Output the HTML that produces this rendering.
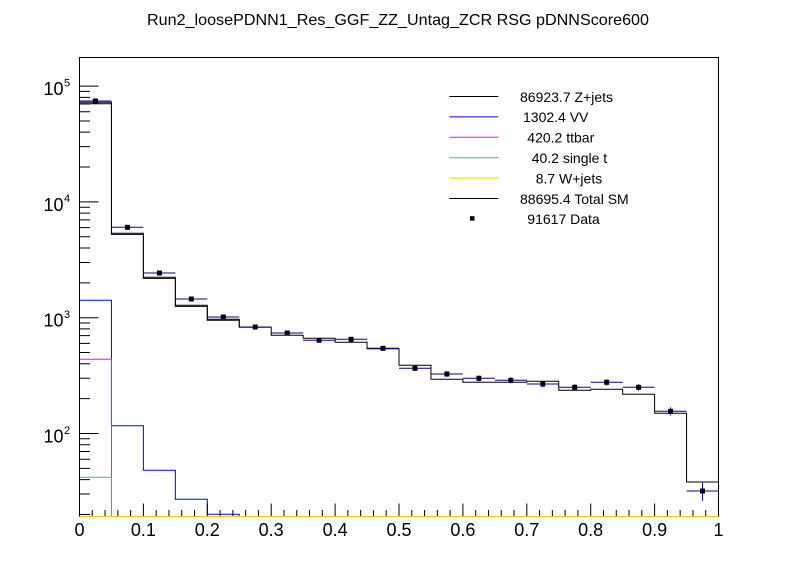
<!DOCTYPE html>
<html>
<head>
<meta charset="utf-8">
<style>
  html, body { margin: 0; padding: 0; background: #ffffff; }
  svg { display: block; }
  text { font-family: "Liberation Sans", Arial, sans-serif; fill: #000; }
</style>
</head>
<body>
<svg width="798" height="575" viewBox="0 0 798 575" xmlns="http://www.w3.org/2000/svg">
  <rect x="0" y="0" width="798" height="575" fill="#ffffff"/>

  <!-- Title -->
  <text x="147" y="25" font-size="16" textLength="502" lengthAdjust="spacingAndGlyphs">Run2_loosePDNN1_Res_GGF_ZZ_Untag_ZCR RSG  pDNNScore600</text>

  <defs>
    <clipPath id="frame">
      <rect x="79.5" y="57.5" width="639" height="459"/>
    </clipPath>
  </defs>

  <g clip-path="url(#frame)" fill="none" stroke-width="1">
    <!-- Total SM -->
    <path stroke="#000" d="M79.5,516.5 V102.3 H111.45 V233.3 H143.4 V277.3 H175.35 V305.3 H207.3 V319.3 H239.25 V327.3 H271.2 V335.3 H303.15 V338.3 H335.1 V342.3 H367.05 V348.7 H399 V365.3 H430.95 V379.3 H462.9 V382.3 H494.85 V382.3 H526.8 V381.3 H558.75 V390.3 H590.7 V389.3 H622.65 V394.3 H654.6 V413.3 H686.55 V482 H718.5 V516.5"/>
    <!-- Z+jets -->
    <path stroke="#000" d="M79.5,103.7 H111.45 V234.4 H143.4 V278.4 H175.35 V306.4 H207.3 V320.3 H239.25 V327.3"/>
    <!-- VV -->
    <path stroke="#0000ff" d="M79.5,516.5 V300.3 H111.45 V425.7 H143.4 V470.3 H175.35 V499.3 H207.3 V514.3 H239.25 V518"/>
    <!-- ttbar -->
    <path stroke="#ff00ff" d="M79.5,516.5 V359.3 H111.45 V518"/>
    <!-- single t -->
    <path stroke="#33cc33" d="M79.5,516.5 V477.3 H111.45 V518"/>

    <!-- Data horizontal error bars -->
    <path stroke="#000099" d="
      M79.5,101 H111.45
      M111.45,227.3 H143.4
      M143.4,273 H175.35
      M175.35,299 H207.3
      M207.3,317 H239.25
      M239.25,327 H271.2
      M271.2,333 H303.15
      M303.15,340.3 H335.1
      M335.1,339.3 H367.05
      M367.05,348.3 H399
      M399,368.3 H430.95
      M430.95,374 H462.9
      M462.9,378.3 H494.85
      M494.85,380.3 H526.8
      M526.8,384 H558.75
      M558.75,387.3 H590.7
      M590.7,382.3 H622.65
      M622.65,387.3 H654.6
      M654.6,411.3 H686.55
      M686.55,491 H718.5"/>
    <!-- Data vertical error bars -->
    <path stroke="#000099" d="
      M191.325,297.7 V300.3
      M223.275,315.4 V318.6
      M255.225,325.3 V328.7
      M287.175,331.2 V334.8
      M319.125,338.3 V342.3
      M351.075,337.3 V341.3
      M383.025,346.2 V350.4
      M414.975,365.7 V371
      M446.925,371.3 V376.9
      M478.875,375.5 V381.3
      M510.825,377.4 V383.4
      M542.775,381 V387.2
      M574.725,384.2 V390.6
      M606.675,379.3 V385.5
      M638.625,384.2 V390.6
      M670.575,407.4 V415.5
      M702.525,482.8 V500.8"/>
  </g>

  <!-- Data markers -->
  <g fill="#000">
    <rect x="92.9" y="98.5" width="5" height="5"/>
    <rect x="124.9" y="224.8" width="5" height="5"/>
    <rect x="156.9" y="270.5" width="5" height="5"/>
    <rect x="188.8" y="296.5" width="5" height="5"/>
    <rect x="220.8" y="314.5" width="5" height="5"/>
    <rect x="252.7" y="324.5" width="5" height="5"/>
    <rect x="284.7" y="330.5" width="5" height="5"/>
    <rect x="316.6" y="337.8" width="5" height="5"/>
    <rect x="348.6" y="336.8" width="5" height="5"/>
    <rect x="380.5" y="345.8" width="5" height="5"/>
    <rect x="412.5" y="365.8" width="5" height="5"/>
    <rect x="444.4" y="371.5" width="5" height="5"/>
    <rect x="476.4" y="375.8" width="5" height="5"/>
    <rect x="508.3" y="377.8" width="5" height="5"/>
    <rect x="540.3" y="381.5" width="5" height="5"/>
    <rect x="572.2" y="384.8" width="5" height="5"/>
    <rect x="604.2" y="379.8" width="5" height="5"/>
    <rect x="636.1" y="384.8" width="5" height="5"/>
    <rect x="668.1" y="408.8" width="5" height="5"/>
    <rect x="700" y="488.5" width="5" height="5"/>
  </g>

  <!-- Frame -->
  <rect x="79.5" y="57.5" width="639" height="459" fill="none" stroke="#000" stroke-width="1"/>

  <!-- Y ticks -->
  <path fill="none" stroke="#000" stroke-width="1" d="
    M79.5,433.5 H98.5 M79.5,317.7 H98.5 M79.5,201.9 H98.5 M79.5,86.1 H98.5
    M79.5,514.44 H90 M79.5,494.05 H90 M79.5,479.58 H90 M79.5,468.36 H90 M79.5,459.19 H90 M79.5,451.44 H90 M79.5,444.72 H90 M79.5,438.8 H90
    M79.5,398.64 H90 M79.5,378.25 H90 M79.5,363.78 H90 M79.5,352.56 H90 M79.5,343.39 H90 M79.5,335.64 H90 M79.5,328.92 H90 M79.5,323.0 H90
    M79.5,282.84 H90 M79.5,262.45 H90 M79.5,247.98 H90 M79.5,236.76 H90 M79.5,227.59 H90 M79.5,219.84 H90 M79.5,213.12 H90 M79.5,207.2 H90
    M79.5,167.04 H90 M79.5,146.65 H90 M79.5,132.18 H90 M79.5,120.96 H90 M79.5,111.79 H90 M79.5,104.04 H90 M79.5,97.32 H90 M79.5,91.4 H90"/>

  <!-- X ticks -->
  <path fill="none" stroke="#000" stroke-width="1" d="
    M79.5,516.5 V503.5 M143.4,516.5 V503.5 M207.3,516.5 V503.5 M271.2,516.5 V503.5 M335.1,516.5 V503.5 M399,516.5 V503.5
    M462.9,516.5 V503.5 M526.8,516.5 V503.5 M590.7,516.5 V503.5 M654.6,516.5 V503.5 M718.5,516.5 V503.5
    M92.28,516.5 V510 M105.06,516.5 V510 M117.84,516.5 V510 M130.62,516.5 V510
    M156.18,516.5 V510 M168.96,516.5 V510 M181.74,516.5 V510 M194.52,516.5 V510
    M220.08,516.5 V510 M232.86,516.5 V510 M245.64,516.5 V510 M258.42,516.5 V510
    M283.98,516.5 V510 M296.76,516.5 V510 M309.54,516.5 V510 M322.32,516.5 V510
    M347.88,516.5 V510 M360.66,516.5 V510 M373.44,516.5 V510 M386.22,516.5 V510
    M411.78,516.5 V510 M424.56,516.5 V510 M437.34,516.5 V510 M450.12,516.5 V510
    M475.68,516.5 V510 M488.46,516.5 V510 M501.24,516.5 V510 M514.02,516.5 V510
    M539.58,516.5 V510 M552.36,516.5 V510 M565.14,516.5 V510 M577.92,516.5 V510
    M603.48,516.5 V510 M616.26,516.5 V510 M629.04,516.5 V510 M641.82,516.5 V510
    M667.38,516.5 V510 M680.16,516.5 V510 M692.94,516.5 V510 M705.72,516.5 V510"/>

  <!-- W+jets line along bottom -->
  <path fill="none" stroke="#ffcc00" stroke-width="1" d="M79.5,516.5 H718.5"/>

  <!-- X tick labels -->
  <g font-size="18" text-anchor="middle">
    <text x="79.5" y="536">0</text>
    <text x="143.4" y="536">0.1</text>
    <text x="207.3" y="536">0.2</text>
    <text x="271.2" y="536">0.3</text>
    <text x="335.1" y="536">0.4</text>
    <text x="399" y="536">0.5</text>
    <text x="462.9" y="536">0.6</text>
    <text x="526.8" y="536">0.7</text>
    <text x="590.7" y="536">0.8</text>
    <text x="654.6" y="536">0.9</text>
    <text x="718.5" y="536">1</text>
  </g>

  <!-- Y tick labels -->
  <g font-size="18" text-anchor="end">
    <text x="63.5" y="95">10</text>
    <text x="63.5" y="211">10</text>
    <text x="63.5" y="326.7">10</text>
    <text x="63.5" y="442.5">10</text>
  </g>
  <g font-size="11" text-anchor="start">
    <text x="64" y="86.3">5</text>
    <text x="64" y="202.2">4</text>
    <text x="64" y="318">3</text>
    <text x="64" y="433.8">2</text>
  </g>

  <!-- Legend -->
  <g fill="none" stroke-width="1">
    <path stroke="#000" d="M449.3,96.5 H498.3"/>
    <path stroke="#0000ff" d="M449.3,116.9 H498.3"/>
    <path stroke="#ff00ff" d="M449.3,137.3 H498.3"/>
    <path stroke="#33cc33" d="M449.3,157.7 H498.3"/>
    <path stroke="#ffcc00" d="M449.3,178.1 H498.3"/>
    <path stroke="#000" d="M449.3,198.5 H498.3"/>
  </g>
  <rect x="470" y="216.2" width="4.5" height="4.5" fill="#000"/>
  <g font-size="14">
    <text x="520" y="101.8">86923.7 Z+jets</text>
    <text x="523" y="122.2">1302.4 VV</text>
    <text x="527.3" y="142.6">420.2 ttbar</text>
    <text x="531.7" y="163">40.2 single t</text>
    <text x="535.7" y="183.4">8.7 W+jets</text>
    <text x="520" y="203.8">88695.4 Total SM</text>
    <text x="527.3" y="224.2">91617 Data</text>
  </g>
</svg>
</body>
</html>
